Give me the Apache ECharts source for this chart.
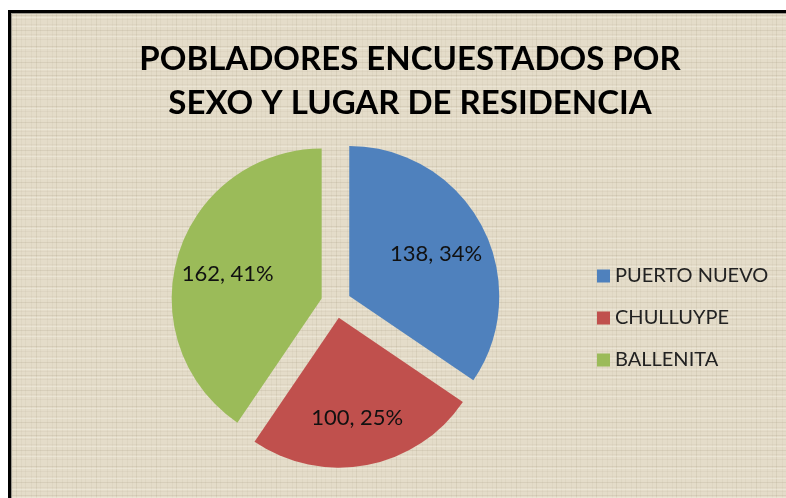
<!DOCTYPE html>
<html>
<head>
<meta charset="utf-8">
<script src="https://cdn.jsdelivr.net/npm/echarts@6/dist/echarts.min.js"></script>
<style>
    html, body { margin: 0; padding: 0; background: #fff; overflow: hidden; }
    #frame {
        position: absolute; left: 8px; top: 10px;
        width: 820px; height: 520px;
        border-left: 3px solid #000; border-top: 3px solid #000;
        box-shadow: inset 1px 1px 0 #9a968c;
        background: #e3dbc8;
    }
    #main { position: absolute; left: 0; top: 0; width: 786px; height: 498px; }
</style>
</head>
<body>
<div id="frame"></div>
<div id="main"></div>
<script>
var categories = ['PUERTO NUEVO', 'CHULLUYPE', 'BALLENITA'];
var values = [138, 100, 162];
var percents = ['34%', '25%', '41%'];
var colors = ['#4f81bd', '#c0504d', '#9bbb59'];

// textura de arpillera para el fondo
var tex = document.createElement('canvas');
tex.width = 60; tex.height = 60;
var g = tex.getContext('2d');
g.fillStyle = '#e4dcc9';
g.fillRect(0, 0, 60, 60);
var rows = [2, 6, 11, 17, 21, 26, 33, 38, 43, 49, 54, 58];
var cols = [1, 5, 10, 14, 20, 25, 29, 36, 41, 45, 51, 56];
rows.forEach(function (y, i) {
    g.fillStyle = (i % 3 === 0) ? 'rgba(150,138,110,0.16)' : 'rgba(150,138,110,0.08)';
    g.fillRect(0, y, 60, 1);
});
cols.forEach(function (x, i) {
    g.fillStyle = (i % 4 === 1) ? 'rgba(150,138,110,0.15)' : 'rgba(150,138,110,0.07)';
    g.fillRect(x, 0, 1, 60);
});
g.fillStyle = 'rgba(250,246,235,0.35)';
rows.forEach(function (y, i) { if (i % 2 === 0) g.fillRect(0, y + 2, 60, 1); });
document.getElementById('frame').style.background = 'url(' + tex.toDataURL() + ')';

var cx = 336, cy = 303;
var chart = echarts.init(document.getElementById('main'));
var option = {
    title: {
        text: 'POBLADORES ENCUESTADOS POR\nSEXO Y LUGAR DE RESIDENCIA',
        left: 405,
        top: 32,
        textAlign: 'center',
        textStyle: {
            fontFamily: 'Lato',
            fontWeight: 'bold',
            fontSize: 33,
            lineHeight: 44,
            color: '#000'
        }
    },
    legend: {
        orient: 'vertical',
        left: 592,
        top: 261,
        itemWidth: 13,
        itemHeight: 13,
        itemGap: 22,
        icon: 'rect',
        selectedMode: false,
        data: categories,
        textStyle: {
            fontFamily: 'Lato',
            fontSize: 20,
            color: '#222'
        }
    },
    series: [{
        type: 'pie',
        center: [cx, cy],
        radius: 150,
        startAngle: 90,
        clockwise: true,
        selectedMode: 'multiple',
        selectedOffset: 15,
        animation: false,
        emphasis: { scale: false },
        label: {
            position: 'inside',
            fontFamily: 'Lato',
            fontSize: 22,
            color: '#111',
            formatter: function (p) {
                return p.value + ', ' + percents[p.dataIndex];
            }
        },
        labelLayout: function (p) {
            var lx = p.labelRect.x + p.labelRect.width / 2;
            var ly = p.labelRect.y + p.labelRect.height / 2;
            return { dx: (lx - cx) * 0.26, dy: (ly - cy) * 0.25 + 4 };
        },
        data: categories.map(function (name, i) {
            return {
                name: name,
                value: values[i],
                selected: true,
                itemStyle: { color: colors[i] }
            };
        })
    }]
};
chart.setOption(option);
</script>
</body>
</html>
